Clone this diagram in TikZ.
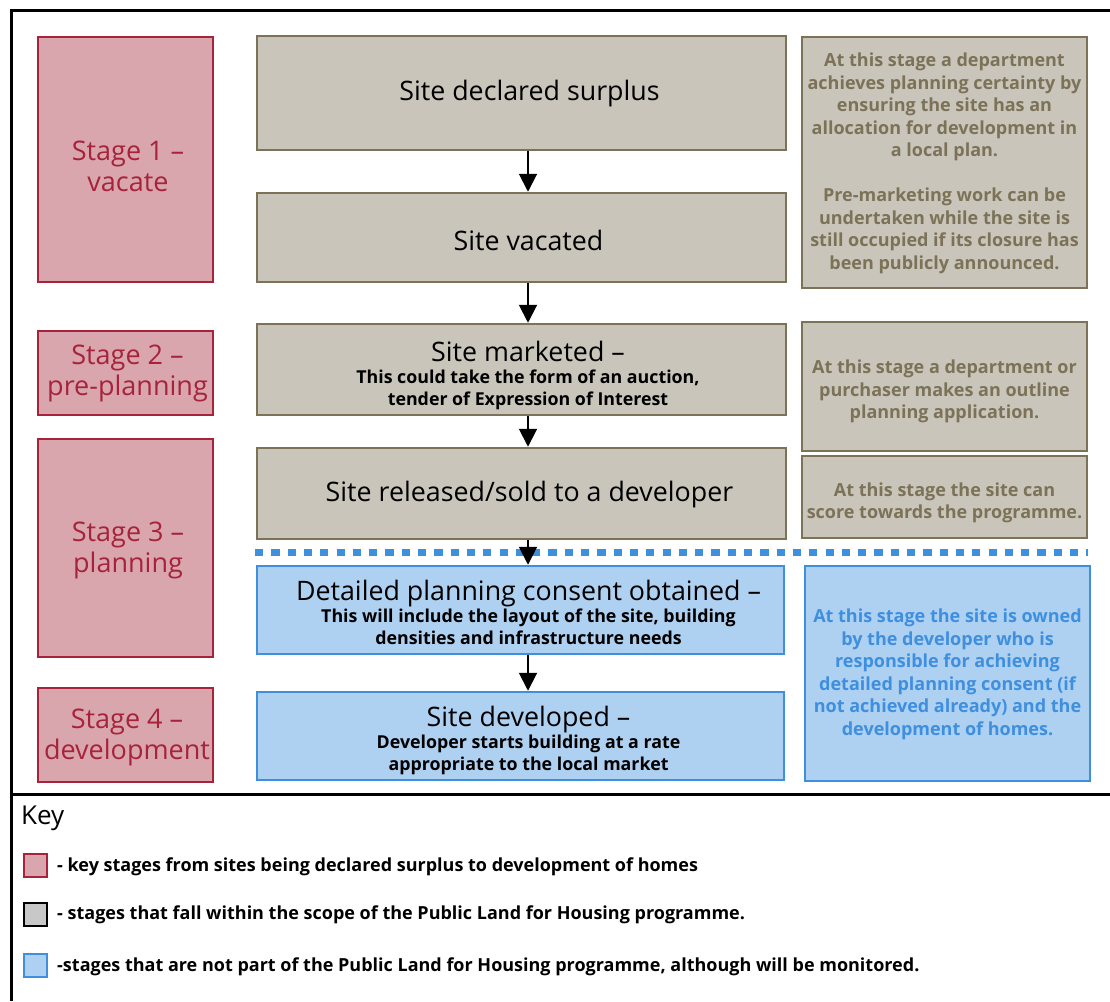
\documentclass[tikz,border=0pt]{standalone}
\usepackage{fontspec}
\setmainfont{Open Sans}
\usetikzlibrary{arrows.meta}
\definecolor{stred}{HTML}{A6233B}
\definecolor{stredfill}{HTML}{D9A6AD}
\definecolor{gborder}{HTML}{7B7257}
\definecolor{gfill}{HTML}{C9C5BA}
\definecolor{bborder}{HTML}{3F8FDF}
\definecolor{bfill}{HTML}{AED0F1}
\definecolor{keygray}{HTML}{C8C8C8}
\tikzset{
  stagebox/.style={draw=stred, fill=stredfill, line width=2.5pt, inner sep=0pt},
  stagelabel/.style={inner sep=0pt, align=center, text=stred, font=\fontsize{27}{31}\selectfont},
  graybox/.style={draw=gborder, fill=gfill, line width=2.5pt, inner sep=0pt, align=center, text=black},
  bluebox/.style={draw=bborder, fill=bfill, line width=2.5pt, inner sep=0pt, align=center, text=black},
  bigtext/.style={font=\fontsize{26.8}{30}\selectfont},
  subtext/.style={font=\bfseries\fontsize{17.8}{22}\selectfont},
  notelabel/.style={inner sep=0pt, align=center, font=\bfseries\fontsize{18}{22.5}\selectfont},
  flowarrow/.style={draw=black, line width=2pt, -{Triangle[width=18pt,length=18pt]}},
  frame/.style={draw=black, line width=3pt},
  keytext/.style={anchor=west, inner sep=0pt, font=\bfseries\fontsize{18}{22}\selectfont},
  swatch/.style={line width=2pt, minimum width=23pt, minimum height=23pt, inner sep=0pt}
}
\newcommand{\bigline}[1]{{\mdseries\fontsize{26.8}{30}\selectfont #1}}
\begin{document}
\begin{tikzpicture}[x=1pt,y=-1pt]
\useasboundingbox (0,0) rectangle (1110,1001);
% frame
\coordinate (ftl) at (11,10);
\coordinate (ftr) at (1110,10);
\coordinate (fbl) at (11,1001);
\coordinate (sl) at (11,794);
\coordinate (sr) at (1110,794);
\draw[frame] (ftr) -- (ftl) -- (fbl);
\draw[frame] (sl) -- (sr);
% stages
\node[stagebox, minimum width=175pt, minimum height=245pt] (s1) at (125.5,159.5) {};
\node[stagebox, minimum width=175pt, minimum height=84pt] (s2) at (125.5,373) {};
\node[stagebox, minimum width=175pt, minimum height=218pt] (s3) at (125.5,548) {};
\node[stagebox, minimum width=175pt, minimum height=94pt] (s4) at (125.5,735) {};
\node[stagelabel] (s1t) at ([xshift=2.5pt,yshift=-7pt]s1.center) {Stage 1 –\\vacate};
\node[stagelabel] (s2t) at ([xshift=2pt,yshift=0pt]s2.center) {Stage 2 –\\pre-planning};
\node[stagelabel] (s3t) at ([xshift=2.5pt,yshift=-2pt]s3.center) {Stage 3 –\\planning};
\node[stagelabel] (s4t) at ([xshift=1.5pt,yshift=-2pt]s4.center) {Stage 4 –\\development};
% flow boxes
\node[graybox, minimum width=529pt, minimum height=114pt] (g1) at (521.5,93) {};
\node[graybox, minimum width=529pt, minimum height=89pt] (g2) at (521.5,237.5) {};
\node[graybox, minimum width=529pt, minimum height=91pt] (g3) at (521.5,369.5) {};
\node[graybox, minimum width=529pt, minimum height=91pt] (g4) at (521.5,493.5) {};
\node[bluebox, minimum width=527pt, minimum height=88pt] (b1) at (520.5,610) {};
\node[bluebox, minimum width=527pt, minimum height=88pt] (b2) at (520.5,736) {};
\node[bigtext] (g1t) at ([xshift=8pt,yshift=-1pt]g1.center) {Site declared surplus};
\node[bigtext] (g2t) at ([xshift=7pt,yshift=-3pt]g2.center) {Site vacated};
\node[bigtext] (g4t) at ([xshift=8pt,yshift=-1pt]g4.center) {Site released/sold to a developer};
\node[subtext, align=center] (g3t) at ([xshift=6.5pt,yshift=-6pt]g3.center) {\bigline{Site marketed –}\\This could take the form of an auction,\\tender of Expression of Interest};
\node[subtext, align=center] (b1t) at ([xshift=8pt,yshift=-2pt]b1.center) {\bigline{Detailed planning consent obtained –}\\This will include the layout of the site, building\\densities and infrastructure needs};
\node[subtext, align=center] (b2t) at ([xshift=8pt,yshift=-4pt]b2.center) {\bigline{Site developed –}\\Developer starts building at a rate\\appropriate to the local market};
% notes
\node[graybox, minimum width=285pt, minimum height=251pt] (r1) at (944.5,162.5) {};
\node[graybox, minimum width=285pt, minimum height=129pt] (r2) at (944.5,386.5) {};
\node[graybox, minimum width=285pt, minimum height=82pt] (r3) at (944.5,497) {};
\node[bluebox, minimum width=285pt, minimum height=215pt] (r4) at (947.5,673.5) {};
\node[notelabel, text=gborder] (r1t) at ([yshift=-1pt]r1.center) {At this stage a department\\achieves planning certainty by\\ensuring the site has an\\allocation for development in\\a local plan.\\[22.5pt]Pre-marketing work can be\\undertaken while the site is\\still occupied if its closure has\\been publicly announced.};
\node[notelabel, text=gborder] (r2t) at ([yshift=-5pt]r2.center) {At this stage a department or\\purchaser makes an outline\\planning application.};
\node[notelabel, text=gborder] (r3t) at ([yshift=-6pt]r3.center) {At this stage the site can\\score towards the programme.};
\node[notelabel, text=bborder] (r4t) at ([yshift=-1pt]r4.center) {At this stage the site is owned\\by the developer who is\\responsible for achieving\\detailed planning consent (if\\not achieved already) and the\\development of homes.};
% dotted divider
\coordinate (dl) at (255,552);
\coordinate (dr) at (1088,552);
\draw[draw=bborder, line width=7pt, dash pattern=on 8.2pt off 8.1pt] (dl) -- (dr);
% arrows
\coordinate (ax) at (528,0);
\draw[flowarrow] (g1.south -| ax) -- (g2.north -| ax);
\draw[flowarrow] (g2.south -| ax) -- (g3.north -| ax);
\draw[flowarrow] (g3.south -| ax) -- (g4.north -| ax);
\draw[flowarrow] (g4.south -| ax) -- (b1.north -| ax);
\draw[flowarrow] (b1.south -| ax) -- (b2.north -| ax);
% key
\node[anchor=west, inner sep=0pt, font=\fontsize{26}{30}\selectfont] (keyt) at (21,818) {Key};
\node[swatch, draw=stred, fill=stredfill] (k1) at (35.5,865) {};
\node[swatch, draw=black, fill=keygray] (k2) at (35.5,914) {};
\node[swatch, draw=bborder, fill=bfill] (k3) at (35.5,965) {};
\node[keytext] (k1t) at (57,867) {- key stages from sites being declared surplus to development of homes};
\node[keytext] (k2t) at (57,915) {- stages that fall within the scope of the Public Land for Housing programme.};
\node[keytext] (k3t) at (57,967) {-stages that are not part of the Public Land for Housing programme, although will be monitored.};
\end{tikzpicture}
\end{document}
